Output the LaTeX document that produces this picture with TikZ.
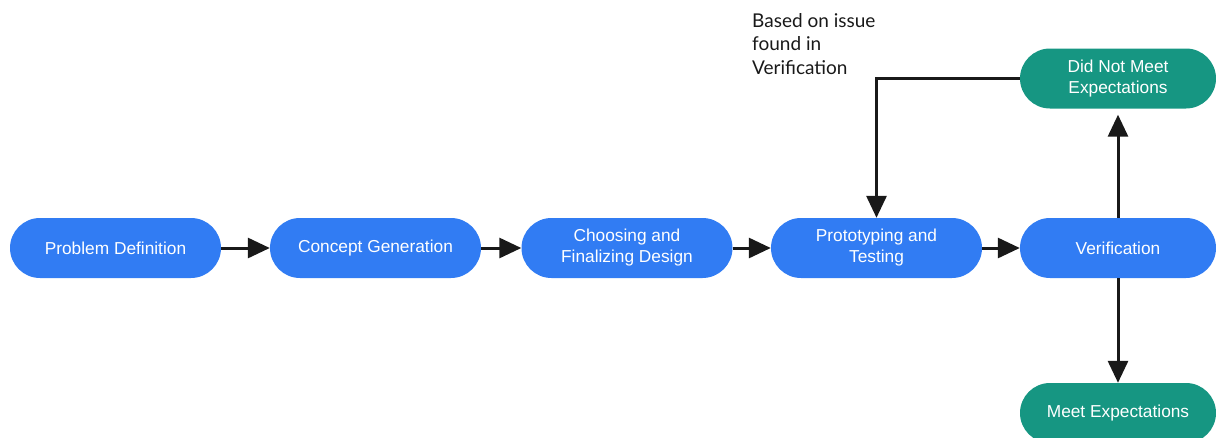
\documentclass[tikz,border=0pt]{standalone}
\usepackage{fontspec}
\setmainfont{Lato}
\newfontfamily\boxfont{Liberation Sans}
\usetikzlibrary{arrows.meta}
\definecolor{stepblue}{RGB}{49,124,243}
\definecolor{stepteal}{RGB}{22,150,130}
\tikzset{
  stepbox/.style={draw=none, fill=stepblue, rounded corners=30pt, minimum width=211pt, minimum height=60pt,
    text=white, align=center, font=\boxfont\fontsize{17.3pt}{21pt}\selectfont, inner sep=0pt},
  narrowbox/.style={stepbox, minimum width=196pt},
  outbox/.style={narrowbox, fill=stepteal},
  flow/.style={line width=3pt, draw=black!90, -{Triangle[length=22pt,width=20pt]}},
}
\begin{document}
\begin{tikzpicture}[x=1pt,y=-1pt]
\useasboundingbox (0,0) rectangle (1216,437);
\node[stepbox] (pd) at (115.5,248) {Problem Definition};
\node[stepbox] (cg) at (375.5,248) {Concept Generation};
\node[stepbox] (cf) at (627,248) {Choosing and\\Finalizing Design};
\node[stepbox] (pt) at (876.5,248) {Prototyping and\\Testing};
\node[narrowbox] (ver) at (1118,248) {Verification};
\node[outbox] (dnm) at (1118,78.5) {Did Not Meet\\Expectations};
\node[outbox] (me) at (1118,413) {Meet Expectations};
\node[anchor=north west, align=left, text=black!90, font=\fontsize{19pt}{23.5pt}\selectfont, inner sep=0pt] (note) at (752,13) {Based on issue\\found in\\Verification};
\coordinate (bend) at (pt.north |- dnm.west);
\draw[flow] (pd) -- (cg);
\draw[flow] (cg) -- (cf);
\draw[flow] (cf) -- (pt);
\draw[flow] (pt) -- (ver);
\draw[flow, shorten >=6pt] (ver.north) -- (dnm.south);
\draw[flow] (ver.south) -- (me.north);
\draw[flow] (dnm.west) -- (bend) -- (pt.north);
\end{tikzpicture}
\end{document}
